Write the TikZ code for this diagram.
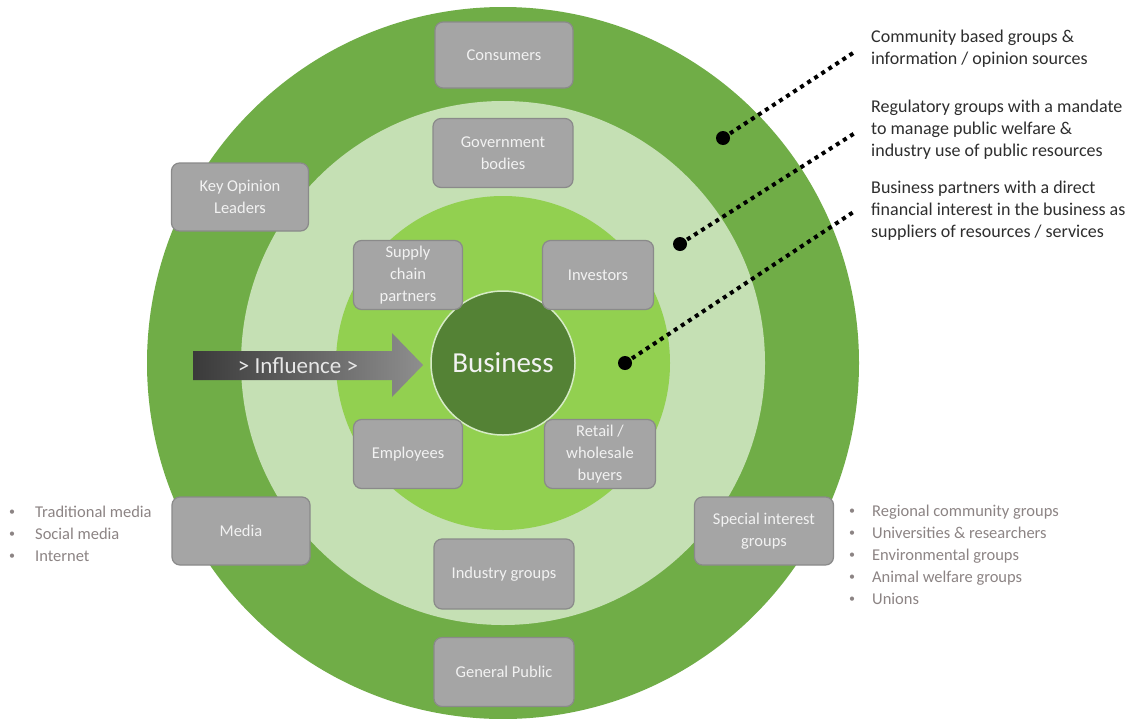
\documentclass[tikz,border=0pt]{standalone}
\usepackage{fontspec}
\setmainfont{Carlito}
\definecolor{ringouter}{HTML}{70AD47}
\definecolor{ringmid}{HTML}{C5E0B4}
\definecolor{ringinner}{HTML}{92D050}
\definecolor{core}{HTML}{548235}
\definecolor{coreedge}{HTML}{D6EBC6}
\definecolor{boxfill}{HTML}{A5A5A5}
\definecolor{boxedge}{HTML}{8A8A8A}
\definecolor{boxtext}{HTML}{F2F2F2}
\definecolor{notetext}{HTML}{2E2E2E}
\definecolor{listtext}{HTML}{8C8484}
\definecolor{arrowdark}{HTML}{3A3A3A}
\definecolor{arrowlight}{HTML}{8E8E8E}
\newcommand{\listdot}{\raisebox{1.5pt}{\fontsize{12}{12}\selectfont\textbullet}}
\begin{document}
\begin{tikzpicture}[x=1pt,y=-1pt,
  ring/.style={circle,inner sep=0pt,outer sep=0pt},
  stake/.style={draw=boxedge,fill=boxfill,rounded corners=8pt,line width=1.2pt,
    text=boxtext,align=center,inner sep=0pt,
    font=\fontsize{16.5}{22}\selectfont},
  dotmark/.style={circle,fill=black,inner sep=0pt,minimum size=14pt},
  leader/.style={line width=4pt,dash pattern=on 4pt off 4.4pt,black},
  note/.style={anchor=west,align=left,text=notetext,inner sep=0pt,
    font=\fontsize{18}{22}\selectfont},
  bulletlist/.style={anchor=west,text=listtext,inner sep=0pt,
    font=\fontsize{16.5}{22}\selectfont}
]
\useasboundingbox (0,0) rectangle (1143,718);
\fill[white] (0,0) rectangle (1143,718);

% concentric rings
\node[ring,fill=ringouter,minimum size=712pt] (outer) at (503,363) {};
\node[ring,fill=ringmid,minimum size=524pt] (middle) at (503,363) {};
\node[ring,fill=ringinner,minimum size=334pt] (inner) at (503,363) {};
\node[ring,fill=core,draw=coreedge,line width=1.5pt,minimum size=144pt,
  text=boxtext,font=\fontsize{29}{32}\selectfont] (business) at (503,363) {Business};

% influence arrow
\shade[left color=arrowdark,right color=arrowlight]
  (193,351) -- (392,351) -- (392,333) -- (423,365) -- (392,397) -- (392,380) -- (193,380) -- cycle;
\node[text=boxtext!90!gray,inner sep=0pt,font=\fontsize{23}{26}\selectfont] (influence) at (298,366) {> Influence >};

% stakeholder boxes
\node[stake,minimum width=138pt,minimum height=66pt] (consumers) at (504,55) {Consumers};
\node[stake,minimum width=140pt,minimum height=69pt] (government) at (503,153) {Government\\bodies};
\node[stake,minimum width=137pt,minimum height=68pt] (kol) at (240,197) {Key Opinion\\Leaders};
\node[stake,minimum width=109pt,minimum height=69pt] (supply) at (408,275) {Supply\\chain\\partners};
\node[stake,minimum width=111pt,minimum height=69pt] (investors) at (598,275) {Investors};
\node[stake,minimum width=109pt,minimum height=69pt] (employees) at (408,454) {Employees};
\node[stake,minimum width=111pt,minimum height=69pt] (retail) at (600,454) {Retail /\\wholesale\\buyers};
\node[stake,minimum width=138pt,minimum height=68pt] (media) at (241,531) {Media};
\node[stake,minimum width=139pt,minimum height=68pt] (special) at (764,531) {Special interest\\groups};
\node[stake,minimum width=140pt,minimum height=70pt] (industry) at (504,574) {Industry groups};
\node[stake,minimum width=140pt,minimum height=69pt] (public) at (504,672) {General Public};

% ring markers and dotted leaders
\node[dotmark] (dotouter) at (723,138) {};
\node[dotmark] (dotmiddle) at (680,244) {};
\node[dotmark] (dotinner) at (625,363) {};
\coordinate (endouter) at (853,53);
\coordinate (endmiddle) at (855,133);
\coordinate (endinner) at (855,211);
\draw[leader] (dotouter.center) -- (endouter);
\draw[leader] (dotmiddle.center) -- (endmiddle);
\draw[leader] (dotinner.center) -- (endinner);

% ring descriptions
\node[note] (noteouter) at (871,49) {Community based groups \&\\information / opinion sources};
\node[note] (notemiddle) at (871,130) {Regulatory groups with a mandate\\to manage public welfare \&\\industry use of public resources};
\node[note] (noteinner) at (871,211) {Business partners with a direct\\financial interest in the business as\\suppliers of resources / services};

% bullet lists
\node[bulletlist] (medialist) at (9,535) {\begin{tabular}{@{}l@{\hspace{20pt}}l@{}}
  \listdot & Traditional media\\
  \listdot & Social media\\
  \listdot & Internet
\end{tabular}};
\node[bulletlist] (speciallist) at (849,556) {\begin{tabular}{@{}l@{\hspace{17pt}}l@{}}
  \listdot & Regional community groups\\
  \listdot & Universities \& researchers\\
  \listdot & Environmental groups\\
  \listdot & Animal welfare groups\\
  \listdot & Unions
\end{tabular}};
\end{tikzpicture}
\end{document}
